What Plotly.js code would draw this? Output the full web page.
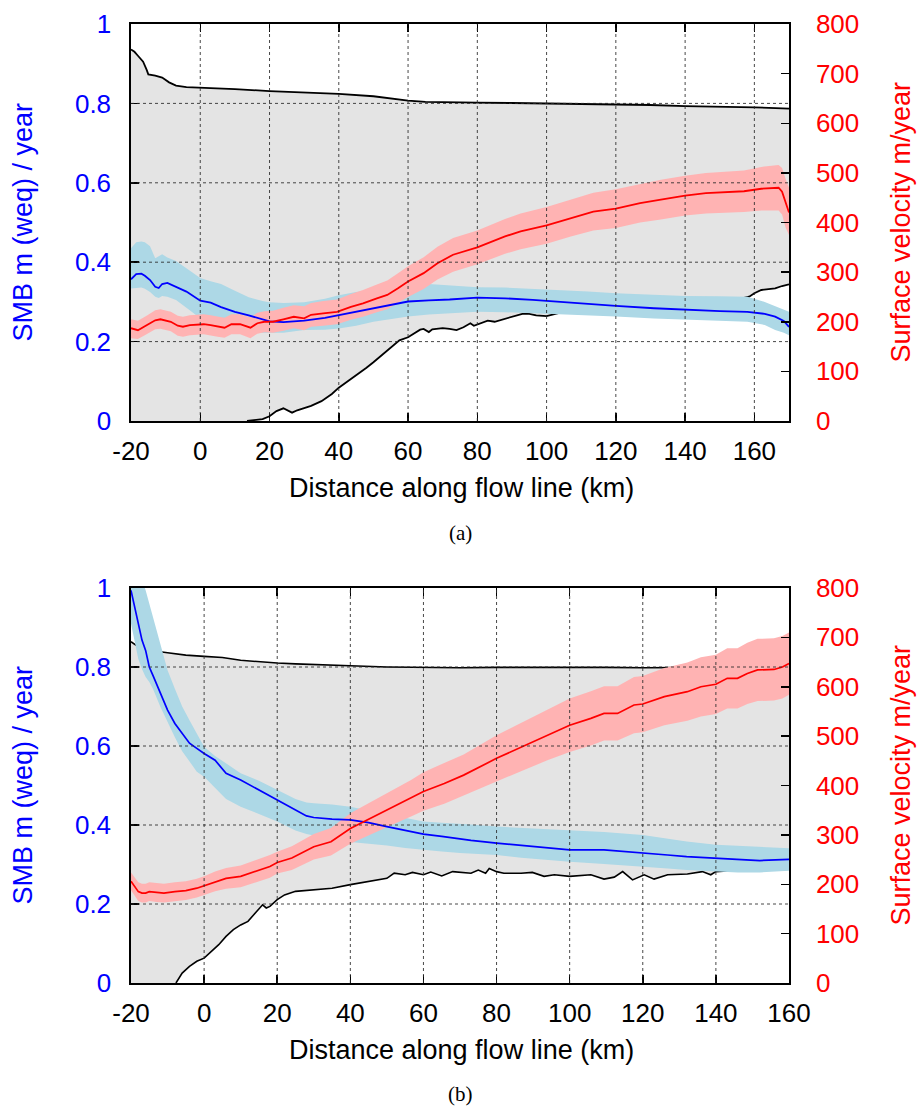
<!DOCTYPE html>
<html><head><meta charset="utf-8">
<script src="https://cdn.plot.ly/plotly-3.0.1.min.js"></script>
<style>html,body{margin:0;padding:0;background:#fff}#chart{width:917px;height:1107px}</style>
</head><body><div id="chart"></div>
<script>
// ---------- tick labels ----------
const aXTickVals = [-20,0,20,40,60,80,100,120,140,160];
const aXTickText = ['-20','0','20','40','60','80','100','120','140','160'];
const bXTickVals = [-20,0,20,40,60,80,100,120,140,160];
const bXTickText = ['-20','0','20','40','60','80','100','120','140','160'];
const smbTickVals = [0,0.2,0.4,0.6,0.8,1];
const smbTickText = ['0','0.2','0.4','0.6','0.8','1'];
const velTickVals = [0,100,200,300,400,500,600,700,800];
const velTickText = ['0','100','200','300','400','500','600','700','800'];

// ---------- panel (a) ----------
const aTopX = [-20,-19,-18,-17,-16.5,-15.5,-15,-13,-11,-9,-7,-4,0,10,20,30,40,50,55,60,65,70,80,90,100,110,120,130,140,150,160,170];
const aTopY = [0.936,0.93,0.92,0.91,0.905,0.885,0.873,0.870,0.865,0.853,0.845,0.841,0.840,0.836,0.831,0.828,0.824,0.818,0.813,0.807,0.804,0.803,0.802,0.801,0.800,0.799,0.797,0.796,0.793,0.792,0.790,0.787];
const aBedX = [13.5,16,18,20,22,24,25.5,26.5,28,30,32,35,38,40,42,45,48,50,53,55,57.5,60,62,63.5,64.5,66,67,70,72,74,76,78,79,81,83,85,87,89,91,93,95,97,100,102,104,106,110,120,130,140,150,157,158.5,160,162,164,166,168,170];
const aBedY = [0,0.003,0.005,0.012,0.025,0.032,0.026,0.021,0.027,0.032,0.038,0.05,0.068,0.084,0.096,0.114,0.134,0.148,0.17,0.186,0.203,0.211,0.222,0.23,0.232,0.224,0.231,0.234,0.232,0.229,0.236,0.246,0.24,0.246,0.253,0.25,0.255,0.261,0.266,0.27,0.27,0.266,0.264,0.268,0.273,0.274,0.277,0.284,0.29,0.297,0.305,0.31,0.313,0.322,0.33,0.332,0.334,0.34,0.344];

const aSmbX  = [-20,-18.5,-17,-16,-14.5,-13,-12,-11,-9.5,-7,-4,0,3,6,10,14,18,20,24,30,36,40,45,50,55,60,66,72,80,88,96,102,112,120,131,140,150,158,163,166,168.5,170];
const aSmb   = [0.357,0.370,0.371,0.366,0.355,0.338,0.335,0.345,0.348,0.338,0.326,0.303,0.298,0.287,0.275,0.266,0.257,0.251,0.249,0.253,0.260,0.267,0.276,0.284,0.294,0.301,0.304,0.306,0.311,0.309,0.305,0.301,0.294,0.290,0.284,0.280,0.277,0.275,0.270,0.263,0.252,0.237];
const aSmbHi = [0.435,0.45,0.452,0.45,0.44,0.41,0.415,0.42,0.412,0.403,0.385,0.36,0.352,0.345,0.328,0.312,0.302,0.299,0.297,0.299,0.308,0.317,0.325,0.33,0.34,0.35,0.345,0.342,0.337,0.336,0.333,0.33,0.326,0.322,0.318,0.315,0.314,0.313,0.30,0.29,0.28,0.275];
const aSmbLo = [0.334,0.335,0.336,0.333,0.325,0.313,0.31,0.315,0.313,0.305,0.285,0.259,0.25,0.24,0.229,0.225,0.222,0.221,0.222,0.229,0.23,0.233,0.24,0.25,0.257,0.263,0.268,0.271,0.275,0.274,0.271,0.27,0.266,0.263,0.258,0.254,0.252,0.25,0.242,0.229,0.222,0.216];

const aVelX  = [-20,-18,-15.5,-13,-11.5,-8.5,-6.5,-5,-3,1,3,5,7,9,11.5,14.5,16.5,18.5,21,24,27,30,32,35.5,39.5,43.5,47,51,54,57,60,64.5,68.5,73,76,80,88,92.5,100,107,113.5,120,127,133,140,146,157,162,167,168,169,170];
const aVel   = [187,183,193,203,205,200,192,190,193,195,193,190,188,195,195,188,197,200,200,205,210,207,214,217,220,230,237,247,254,267,281,298,318,335,342,350,372,382,394,409,422,428,439,446,454,459,463,468,470,462,440,420];
const aVelHi = [205,202,212,223,225,220,212,210,213,215,213,210,208,215,215,209,218,221,222,228,233,231,238,242,245,256,264,275,283,297,312,330,351,369,376,384,407,418,431,446,460,467,478,486,494,500,505,512,516,510,488,470];
const aVelLo = [167,165,175,185,186,181,172,170,173,175,173,170,168,175,175,167,176,179,178,182,187,183,190,192,195,204,210,219,225,237,250,266,285,301,308,316,337,346,357,372,384,389,400,406,414,418,421,424,424,416,390,375];

// ---------- panel (b) ----------
const bTopX = [-20,-18,-16,-14,-10,-5,0,5,10,15,20,25,30,40,50,60,70,80,90,100,110,120,130,140,150,160];
const bTopY = [0.864,0.851,0.842,0.841,0.836,0.83,0.827,0.824,0.817,0.813,0.81,0.808,0.806,0.803,0.8,0.799,0.798,0.799,0.799,0.8,0.799,0.798,0.799,0.799,0.799,0.799];
const bBedX = [-7.7,-6,-4,-2,0,2,4,6,8,10,12,14,16,17,18,20,22,25,30,35,40,45,50,52,55,57,60,62,65,68,71,73,75,77,78,80,82,86.7,89.8,93,95.8,100,105.8,109.4,112.2,114.5,117.2,120.4,123.1,126.8,132.2,136.3,138.6,140,145,150,155,160];
const bBedY = [0,0.025,0.042,0.055,0.063,0.08,0.097,0.118,0.135,0.147,0.156,0.177,0.198,0.19,0.194,0.211,0.223,0.232,0.236,0.24,0.249,0.257,0.265,0.278,0.274,0.28,0.274,0.281,0.271,0.282,0.28,0.278,0.286,0.278,0.29,0.282,0.278,0.278,0.28,0.27,0.274,0.27,0.274,0.263,0.268,0.282,0.261,0.274,0.263,0.274,0.276,0.282,0.274,0.282,0.285,0.286,0.287,0.288];

const bSmbX  = [-20,-19,-18,-17,-16,-15,-14,-12,-10,-8,-6,-4,-2,0,3,6,10,15,20,25,28,30,35,40,45,50,55,60,65,70,73,80,86.7,93,100,109.4,120,126.8,132,140,146,152,160];
const bSmb   = [0.994,0.952,0.91,0.868,0.842,0.8,0.779,0.733,0.691,0.657,0.632,0.607,0.594,0.581,0.564,0.531,0.514,0.489,0.463,0.438,0.423,0.419,0.415,0.413,0.406,0.396,0.386,0.377,0.371,0.364,0.361,0.354,0.348,0.343,0.337,0.337,0.33,0.324,0.32,0.316,0.312,0.31,0.313];
const bSmbHi = [1.05,1.05,1.04,1.02,0.994,0.96,0.927,0.86,0.792,0.745,0.7,0.665,0.63,0.598,0.575,0.556,0.531,0.512,0.489,0.466,0.457,0.455,0.452,0.446,0.437,0.428,0.418,0.409,0.406,0.404,0.401,0.396,0.393,0.39,0.388,0.382,0.375,0.366,0.358,0.35,0.347,0.344,0.341];
const bSmbLo = [0.91,0.87,0.82,0.795,0.775,0.762,0.745,0.70,0.66,0.622,0.587,0.56,0.535,0.522,0.495,0.466,0.446,0.428,0.409,0.386,0.377,0.373,0.364,0.357,0.352,0.348,0.342,0.337,0.333,0.329,0.327,0.324,0.317,0.312,0.307,0.301,0.295,0.29,0.286,0.282,0.28,0.28,0.284];

const bVelX  = [-20,-19,-18,-17,-16,-15,-13,-11,-8,-5,-2,0,3,6,10,14,18,20,24,30,34.7,40,45.6,51,56.6,60,65.7,71,80,86.7,93.9,100,105.8,109.4,113.1,117.6,120,125.9,132.2,135.9,140,143.1,145.9,148.6,151.4,155.9,158.2,160];
const bVel   = [206,195,185,182,182,185,183,182,185,187,192,197,206,212,216,226,236,244,253,276,286,313,334,354,374,388,404,421,455,478,502,522,536,546,546,563,565,580,590,600,605,617,617,627,634,635,640,647];
const bVelHi = [224,214,204,201,201,204,202,201,204,206,211,216,226,233,238,248,259,266,277,302,314,344,367,389,411,427,445,463,502,527,553,576,591,601,601,620,622,638,649,660,665,678,678,689,697,698,703,710];
const bVelLo = [188,176,166,163,163,166,164,163,166,168,173,178,186,191,194,204,213,222,229,250,258,282,301,319,337,349,363,379,408,429,451,468,481,491,491,506,508,522,531,540,545,556,556,565,571,572,576,584];

// ---------- styling ----------
const W = 917, H = 1107;
const FONT = 'Liberation Sans, Arial, Helvetica, sans-serif';
const SERIF = 'Liberation Serif, Times New Roman, serif';
const GRAY = '#e4e4e4', LBLUE = '#add8e6', PINK = '#ffb3b3', BLUE = '#0000ff', RED = '#ff0000';
const py = y => 1 - y / H;
const domX = [131 / W, 789 / W];
const domA = [py(421), py(24)];
const domB = [py(983), py(588)];

function rev(a) { return a.slice().reverse(); }
function area(tx, ty, bx, by, xa, ya) {
  return { x: tx.concat(rev(bx), [tx[0]]), y: ty.concat(rev(by), [0]),
    mode: 'lines', fill: 'toself', fillcolor: GRAY, line: { width: 0, color: 'rgba(0,0,0,0)' },
    xaxis: xa, yaxis: ya, hoverinfo: 'skip', showlegend: false };
}
function band(x, lo, hi, color, xa, ya) {
  return { x: x.concat(rev(x)), y: hi.concat(rev(lo)), mode: 'lines', fill: 'toself',
    fillcolor: color, line: { width: 0, color: 'rgba(0,0,0,0)' }, xaxis: xa, yaxis: ya,
    hoverinfo: 'skip', showlegend: false };
}
function line(x, y, color, w, xa, ya) {
  return { x: x, y: y, mode: 'lines', line: { color: color, width: w }, xaxis: xa, yaxis: ya,
    hoverinfo: 'skip', showlegend: false };
}

const data = [
  area(aTopX, aTopY, aBedX, aBedY, 'x', 'y'),
  line(aTopX, aTopY, '#000', 1.8, 'x', 'y'),
  line(aBedX, aBedY, '#000', 1.8, 'x', 'y'),
  band(aSmbX, aSmbLo, aSmbHi, LBLUE, 'x', 'y'),
  band(aVelX, aVelLo, aVelHi, PINK, 'x', 'y2'),
  line(aSmbX, aSmb, BLUE, 1.8, 'x', 'y3'),
  line(aVelX, aVel, RED, 1.8, 'x', 'y4'),

  area(bTopX, bTopY, bBedX, bBedY, 'x2', 'y5'),
  line(bTopX, bTopY, '#000', 1.6, 'x2', 'y5'),
  line(bBedX, bBedY, '#000', 1.6, 'x2', 'y5'),
  band(bSmbX, bSmbLo, bSmbHi, LBLUE, 'x2', 'y5'),
  band(bVelX, bVelLo, bVelHi, PINK, 'x2', 'y6'),
  line(bSmbX, bSmb, BLUE, 1.7, 'x2', 'y7'),
  line(bVelX, bVel, RED, 1.7, 'x2', 'y8')
];

function xax(range, vals, text, anchor) {
  return { domain: domX, anchor: anchor, range: range, tickmode: 'array', tickvals: vals, ticktext: text,
    ticks: 'inside', ticklen: 8, tickwidth: 1.5, tickcolor: '#000', showline: true, linewidth: 1.7,
    linecolor: '#000', mirror: 'ticks', showgrid: false, zeroline: false, layer: 'above traces',
    tickfont: { family: FONT, size: 26, color: '#000' }, ticklabelstandoff: 6, fixedrange: true };
}
function yleft(dom, anchor) {
  return { domain: dom, anchor: anchor, range: [0, 1], tickmode: 'array', tickvals: smbTickVals, ticktext: smbTickText,
    ticks: 'inside', ticklen: 8, tickwidth: 1.5, tickcolor: '#000', showline: true, linewidth: 1.7,
    linecolor: '#000', mirror: false, showgrid: false, zeroline: false, layer: 'above traces',
    tickfont: { family: FONT, size: 26, color: BLUE }, ticklabelstandoff: 13, fixedrange: true };
}
function yright(over, anchor) {
  return { overlaying: over, anchor: anchor, side: 'right', range: [0, 800], tickmode: 'array',
    tickvals: velTickVals, ticktext: velTickText, ticks: 'inside', ticklen: 8, tickwidth: 1.5,
    tickcolor: '#000', showline: true, linewidth: 1.7, linecolor: '#000', showgrid: false,
    zeroline: false, layer: 'above traces', tickfont: { family: FONT, size: 26, color: RED },
    ticklabelstandoff: 20, fixedrange: true };
}
function yhidden(over, anchor, range) {
  return { overlaying: over, anchor: anchor, range: range, visible: false, showgrid: false,
    zeroline: false, fixedrange: true };
}

// grid lines (dotted, drawn above the fills like the original)
const shapes = [];
function grid(xref, yref, xvals, yvals, xr) {
  xvals.filter(v => v > xr[0] && v < xr[1]).forEach(v => shapes.push({ type: 'line', xref: xref,
    yref: yref + ' domain', x0: v, x1: v, y0: 0, y1: 1, layer: 'above',
    line: { color: 'rgba(40,40,40,0.85)', width: 1, dash: 'dot' } }));
  yvals.filter(v => v > 0 && v < 1).forEach(v => shapes.push({ type: 'line', xref: xref + ' domain',
    yref: yref, x0: 0, x1: 1, y0: v, y1: v, layer: 'above',
    line: { color: 'rgba(40,40,40,0.85)', width: 1, dash: 'dot' } }));
}
grid('x', 'y', aXTickVals, smbTickVals, [-20, 170]);
grid('x2', 'y5', bXTickVals, smbTickVals, [-20, 160]);

function ann(text, x, y, opts) {
  return Object.assign({ text: text, x: x / W, y: py(y), xref: 'paper', yref: 'paper',
    showarrow: false, xanchor: 'center', yanchor: 'middle' }, opts);
}
const annotations = [
  ann('SMB m (weq) / year', 22, 222.5, { textangle: -90, font: { family: FONT, size: 27, color: BLUE } }),
  ann('Surface velocity m/year', 900, 222.5, { textangle: -90, font: { family: FONT, size: 27, color: RED } }),
  ann('Distance along flow line (km)', 462, 488, { font: { family: FONT, size: 27, color: '#000' } }),
  ann('(a)', 461, 533, { font: { family: SERIF, size: 21, color: '#000' } }),
  ann('SMB m (weq) / year', 22, 785.5, { textangle: -90, font: { family: FONT, size: 27, color: BLUE } }),
  ann('Surface velocity m/year', 900, 785.5, { textangle: -90, font: { family: FONT, size: 27, color: RED } }),
  ann('Distance along flow line (km)', 462, 1050, { font: { family: FONT, size: 27, color: '#000' } }),
  ann('(b)', 461, 1094, { font: { family: SERIF, size: 21, color: '#000' } })
];

const layout = {
  width: W, height: H, margin: { l: 0, r: 0, t: 0, b: 0 }, paper_bgcolor: '#fff', plot_bgcolor: '#fff',
  showlegend: false,
  xaxis: xax([-20, 170], aXTickVals, aXTickText, 'y'),
  yaxis: yleft(domA, 'x'),
  yaxis2: yright('y', 'x'),
  yaxis3: yhidden('y', 'x', [0, 1]),
  yaxis4: yhidden('y', 'x', [0, 800]),
  xaxis2: xax([-20, 160], bXTickVals, bXTickText, 'y5'),
  yaxis5: yleft(domB, 'x2'),
  yaxis6: yright('y5', 'x2'),
  yaxis7: yhidden('y5', 'x2', [0, 1]),
  yaxis8: yhidden('y5', 'x2', [0, 800]),
  shapes: shapes,
  annotations: annotations
};
Plotly.newPlot('chart', data, layout, { staticPlot: true, displayModeBar: false });
</script></body></html>
